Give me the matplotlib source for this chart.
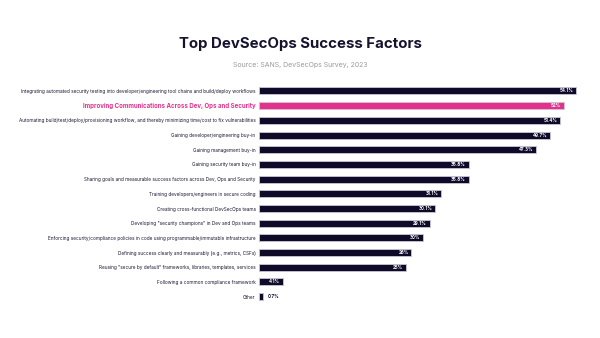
import matplotlib
matplotlib.use("Agg")
import matplotlib.pyplot as plt

plt.rcParams['font.family'] = ['Inter', 'DejaVu Sans']

# Data
factors = [
    "Integrating automated security testing into developer/engineering tool chains and build/deploy workflows",
    "Improving Communications Across Dev, Ops and Security",
    "Automating build/test/deploy/provisioning workflow, and thereby minimizing time/cost to fix vulnerabilities",
    "Gaining developer/engineering buy-in",
    "Gaining management buy-in",
    "Gaining security team buy-in",
    "Sharing goals and measurable success factors across Dev, Ops and Security",
    "Training developers/engineers in secure coding",
    "Creating cross-functional DevSecOps teams",
    "Developing \"security champions\" in Dev and Ops teams",
    "Enforcing security/compliance policies in code using programmable/immutable infrastructure",
    "Defining success clearly and measurably (e.g., metrics, CSFs)",
    "Reusing \"secure by default\" frameworks, libraries, templates, services",
    "Following a common compliance framework",
    "Other",
]
values = [54.1, 52, 51.4, 49.7, 47.3, 35.8, 35.8, 31.1, 30.1, 29.1, 28, 26, 25, 4.1, 0.7]
value_labels = ["54.1%", "52%", "51.4%", "49.7%", "47.3%", "35.8%", "35.8%", "31.1%",
                "30.1%", "29.1%", "30%", "26%", "25%", "4.1%", "0.7%"]
highlight = 1

navy = "#0e0a28"
pink = "#e2328c"

fig = plt.figure(figsize=(6, 3.38), dpi=100)
fig.patch.set_facecolor("white")

ax = fig.add_axes([0.4317, 0.1006, 0.5667, 0.652])

colors = [pink if i == highlight else navy for i in range(len(values))]
ypos = list(range(len(values)))
ax.barh(ypos, values, height=0.48, color=colors, edgecolor="#c9c6d8", linewidth=0.6)

ax.set_xlim(0, 58)
ax.set_ylim(len(values) - 0.5, -0.5)

ax.set_yticks(ypos)
ax.set_yticklabels(factors, fontsize=3.4, color="#1a1833")
ax.tick_params(axis="y", length=0, pad=2.5)
for i, lab in enumerate(ax.get_yticklabels()):
    if i == highlight:
        lab.set_color(pink)
        lab.set_fontsize(4.4)
        lab.set_fontweight("bold")

ax.set_xticks([])
for s in ax.spines.values():
    s.set_visible(False)

# value labels
for y, v, t in zip(ypos, values, value_labels):
    if v > 3:
        ax.text(v - 0.5, y, t, ha="right", va="center", fontsize=3.2,
                fontweight="bold", color="white")
    else:
        ax.text(v + 0.8, y, t, ha="left", va="center", fontsize=3.2,
                fontweight="bold", color=navy)

fig.text(0.5, 1 - 44 / 338, "Top DevSecOps Success Factors", ha="center", va="center",
         fontsize=10.8, fontweight="bold", color="#15132e")
fig.text(0.5, 1 - 65 / 338, "Source: SANS, DevSecOps Survey, 2023", ha="center", va="center",
         fontsize=5, color="#9a9a9a")

fig.savefig("out.png", dpi=100, facecolor="white")
